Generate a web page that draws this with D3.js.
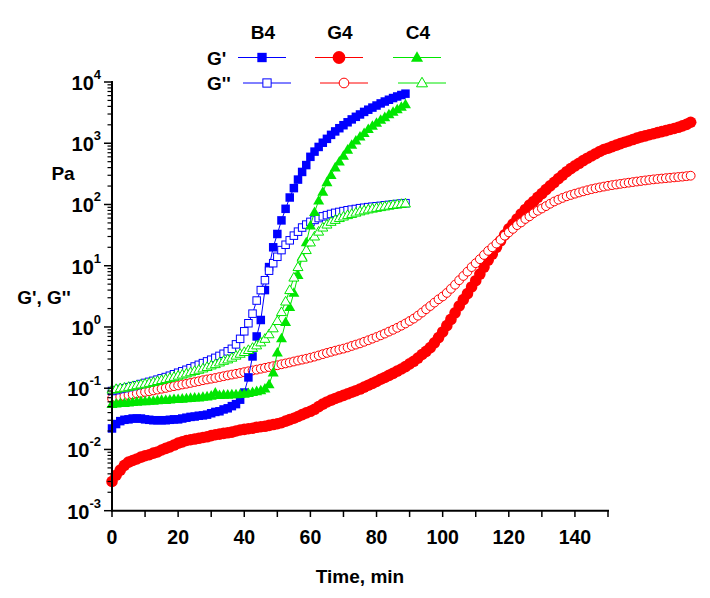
<!DOCTYPE html>
<html><head><meta charset="utf-8">
<script src="https://cdn.jsdelivr.net/npm/d3@7"></script>
<style>body{margin:0;background:#fff}svg{display:block}text{font-family:"Liberation Sans",Arial,sans-serif;font-weight:bold;fill:#000}</style>
</head><body><svg id="c" width="710" height="598"></svg>
<script>
// Sampling times (min)
const timeMin = [0,1.25,2.5,3.75,5,6.25,7.5,8.75,10,11.25,12.5,13.75,15,16.25,17.5,18.75,20,21.25,22.5,23.75,25,26.25,27.5,28.75,30,31.25,32.5,33.75,35,36.25,37.5,38.75,40,41.25,42.5,43.75,45,46.25,47.5,48.75,50,51.25,52.5,53.75,55,56.25,57.5,58.75,60,61.25,62.5,63.75,65,66.25,67.5,68.75,70,71.25,72.5,73.75,75,76.25,77.5,78.75,80,81.25,82.5,83.75,85,86.25,87.5,88.75,90,91.25,92.5,93.75,95,96.25,97.5,98.75,100,101.25,102.5,103.75,105,106.25,107.5,108.75,110,111.25,112.5,113.75,115,116.25,117.5,118.75,120,121.25,122.5,123.75,125,126.25,127.5,128.75,130,131.25,132.5,133.75,135,136.25,137.5,138.75,140,141.25,142.5,143.75,145,146.25,147.5,148.75,150,151.25,152.5,153.75,155,156.25,157.5,158.75,160,161.25,162.5,163.75,165,166.25,167.5,168.75,170,171.25,172.5,173.75,175];

// B4 (0 - 88.75 min), Pa
const B4_Gp = [0.022,0.026,0.029,0.0305, 0.031,0.032,0.032,0.032, 0.031,0.0305,0.030,0.030, 0.030,0.030,0.0305,0.031, 0.031,0.032,0.033,0.034, 0.0345,0.0355,0.036,0.037, 0.039,0.041,0.042,0.045, 0.047,0.051,0.055,0.065, 0.085,0.15,0.33,0.7, 1.3,4.0,9.5,20, 33,55,85,130, 185,255,340,440, 600,730,870,1020, 1180,1370,1560,1760, 1970,2200,2450,2700, 2950,3250,3530,3820, 4130,4470,4800,5130, 5470,5800,6130,6450];
const B4_Gpp = [0.090,0.093,0.097,0.100, 0.104,0.108,0.112,0.117, 0.122,0.127,0.132,0.138, 0.145,0.152,0.160,0.169, 0.179,0.189,0.200,0.212, 0.226,0.241,0.257,0.274, 0.292,0.313,0.337,0.365, 0.40,0.44,0.52,0.64, 0.85,1.15,1.65,2.7, 4.0,5.8,8.3,11, 14,18,22,26, 31,36,42,47, 52,56,60,64, 67,70,73,75.5, 78,80.5,82.5,84.5, 87,88.5,90.5,92, 93.5,95,97,98.5, 100,102,103.5,105];

// C4 (0 - 88.75 min), Pa
const C4_Gp = [0.055,0.056,0.057,0.057, 0.058,0.059,0.060,0.061, 0.061,0.062,0.062,0.063, 0.064,0.064,0.065,0.066, 0.066,0.067,0.068,0.069, 0.070,0.070,0.072,0.073, 0.075,0.084,0.077,0.078, 0.078,0.079,0.079,0.080, 0.081,0.083,0.086,0.089, 0.092,0.098,0.115,0.18, 0.38,0.65,1.2,2.1, 3.6,7.0,14,24, 45,75,115,160, 230,300,400,500, 620,780,940,1100, 1280,1460,1700,1920, 2150,2400,2650,2950, 3250,3550,3900,4300];
const C4_Gpp = [0.095,0.097,0.100,0.102, 0.105,0.108,0.112,0.115, 0.118,0.122,0.126,0.131, 0.136,0.141,0.147,0.153, 0.160,0.167,0.174,0.182, 0.191,0.200,0.210,0.222, 0.235,0.247,0.263,0.28, 0.295,0.315,0.34,0.365, 0.39,0.42,0.455,0.50, 0.56,0.64,0.76,0.95, 1.25,1.75,2.6,4.0, 6.4,9.5,13.5,18, 24,30,36,42, 47,52,56,60, 63.5,67,70,73.5, 77,80,83,85.5, 88,90.5,93,95.5, 98,100,102,104];

// G4 (0 - 175 min), Pa
const G4_Gp = [0.0030,0.0038,0.0046,0.0055, 0.0062,0.0066,0.0070,0.0075, 0.0079,0.0082,0.0087,0.0091, 0.0098,0.0104,0.0110,0.0118, 0.0127,0.0133,0.0140,0.0144, 0.0148,0.0152,0.0157,0.0161, 0.0168,0.0174,0.0178,0.0183, 0.0187,0.0192,0.0200,0.0208, 0.0213,0.0218,0.0222,0.0230, 0.0235,0.0239,0.0247,0.0255, 0.0263,0.0273,0.0290,0.0307, 0.0323,0.0345,0.0370,0.0395, 0.0420,0.0453,0.0500,0.0550, 0.0597,0.0638,0.0680,0.0722, 0.0763,0.0810,0.0860,0.0910, 0.0970,0.104,0.112,0.120, 0.129,0.140,0.150,0.162, 0.175,0.190,0.206,0.225, 0.250,0.275,0.31,0.355, 0.40,0.46,0.55,0.67, 0.83,1.05,1.33,1.7, 2.2,2.8,3.5,4.5, 5.7,7.3,9.5,12.3, 15.5,20,25.5,32, 40,48,58,70, 83,98,112,131, 151,175,201,230, 265,302,343,385, 427,470,520,570, 620,675,735,790, 830,880,930,985, 1040,1090,1150,1210, 1270,1320,1375,1430, 1490,1550,1610,1680, 1740,1820,1920,2030, 2200];
const G4_Gpp = [0.068,0.070,0.072,0.074, 0.077,0.079,0.082,0.084, 0.087,0.089,0.092,0.095, 0.098,0.101,0.105,0.108, 0.111,0.115,0.118,0.122, 0.126,0.130,0.135,0.139, 0.143,0.147,0.152,0.157, 0.162,0.167,0.172,0.177, 0.183,0.189,0.195,0.201, 0.208,0.215,0.222,0.229, 0.237,0.246,0.254,0.263, 0.273,0.283,0.293,0.303, 0.315,0.328,0.343,0.360, 0.377,0.393,0.41,0.427, 0.443,0.463,0.49,0.515, 0.54,0.573,0.607,0.645, 0.685,0.73,0.78,0.84, 0.90,0.97,1.05,1.14, 1.25,1.37,1.53,1.72, 1.95,2.2,2.5,2.83, 3.15,3.6,4.2,4.9, 5.8,6.8,8.0,9.5, 11,12.8,15,17.5, 20,23,26.5,31, 35,40,46,51, 58,64,72,79, 86,94,103,112, 120,128,136,143, 150,157,164,171, 178,184,190,196, 202,207,212,217, 222,227,232,237, 242,247,252,257, 261,265,269,273, 277,281,285,290, 295];

const xTicks = [0,20,40,60,80,100,120,140];
const yExponents = [-3,-2,-1,0,1,2,3,4];
const samples = ["B4","G4","C4"];

const svg = d3.select("#c");
const x = d3.scaleLinear().domain([0,150]).range([112,608]);
const y = d3.scaleLog().domain([1e-3,1e4]).range([510.7,82]);

const BLUE="#0000ff", RED="#ff0000", GREEN="#00e600";

const series = [
  {vals:G4_Gp, color:RED, shape:"circle", filled:true},
  {vals:G4_Gpp, color:RED, shape:"circle", filled:false},
  {vals:B4_Gp, color:BLUE, shape:"square", filled:true},
  {vals:B4_Gpp, color:BLUE, shape:"square", filled:false},
  {vals:C4_Gp, color:GREEN, shape:"triangle", filled:true},
  {vals:C4_Gpp, color:GREEN, shape:"triangle", filled:false}
];

function drawMarker(g, shape, filled, color, cx, cy, scale){
  scale = scale||1;
  if(shape==="square"){
    const s=(filled?8.5:7.5)*scale;
    g.append("rect").attr("x",cx-s/2).attr("y",cy-s/2).attr("width",s).attr("height",s)
     .attr("fill",filled?color:"#fff").attr("stroke",color).attr("stroke-width",filled?0:1);
  } else if(shape==="circle"){
    const r=(filled?5.8:4.4)*scale;
    g.append("circle").attr("cx",cx).attr("cy",cy).attr("r",r)
     .attr("fill",filled?color:"#fff").attr("stroke",color).attr("stroke-width",filled?0:1);
  } else {
    const w=(filled?11:10)*scale, h=w*0.87;
    g.append("path").attr("d",`M${cx},${cy-h*0.6}L${cx+w/2},${cy+h*0.4}L${cx-w/2},${cy+h*0.4}Z`)
     .attr("fill",filled?color:"#fff").attr("stroke",color).attr("stroke-width",filled?0:1);
  }
}

const line = d3.line().x(d=>x(d[0])).y(d=>y(d[1]));
series.forEach(s=>{
  const pts = s.vals.map((v,i)=>[timeMin[i],v]);
  const g = svg.append("g");
  g.append("path").attr("d",line(pts)).attr("fill","none").attr("stroke",s.color).attr("stroke-width",1);
  pts.forEach(p=>drawMarker(g,s.shape,s.filled,s.color,x(p[0]),y(p[1])));
});

// Axes
const ax = svg.append("g");
ax.append("line").attr("x1",112).attr("x2",112).attr("y1",81).attr("y2",511.7).attr("stroke","#000").attr("stroke-width",2);
ax.append("line").attr("x1",111).attr("x2",609).attr("y1",510.7).attr("y2",510.7).attr("stroke","#000").attr("stroke-width",2);
d3.range(0,151,10).forEach(t=>{
  ax.append("line").attr("x1",x(t)).attr("x2",x(t)).attr("y1",510.7).attr("y2",517).attr("stroke","#000").attr("stroke-width",1.5);
});
xTicks.forEach(t=>{
  ax.append("text").attr("x",x(t)).attr("y",544).attr("text-anchor","middle").attr("font-size",19.5).text(t);
});
yExponents.forEach(e=>{
  const yy=y(Math.pow(10,e));
  ax.append("line").attr("x1",104).attr("x2",112).attr("y1",yy).attr("y2",yy).attr("stroke","#000").attr("stroke-width",1.5);
  if(e<4){
    for(let k=2;k<=9;k++){
      const ym=y(k*Math.pow(10,e));
      ax.append("line").attr("x1",107.5).attr("x2",112).attr("y1",ym).attr("y2",ym).attr("stroke","#000").attr("stroke-width",1.2);
    }
  }
  const t=ax.append("text").attr("x",101).attr("y",yy+8).attr("text-anchor","end").attr("font-size",20);
  t.append("tspan").text("10");
  t.append("tspan").attr("dy",-11).attr("font-size",13).text(e);
});

// Axis titles
svg.append("text").attr("x",360).attr("y",583).attr("text-anchor","middle").attr("font-size",19).text("Time, min");
svg.append("text").attr("x",63).attr("y",180).attr("text-anchor","middle").attr("font-size",19).text("Pa");
svg.append("text").attr("x",44).attr("y",304).attr("text-anchor","middle").attr("font-size",19).text("G', G''");

// Legend
const lg = svg.append("g");
const colX = [262,339,417];
const lgColors = [BLUE,RED,GREEN];
const lgShapes = ["square","circle","triangle"];
samples.forEach((s,i)=>{
  lg.append("text").attr("x",colX[i]+1).attr("y",39).attr("text-anchor","middle").attr("font-size",19).text(s);
});
[["G'",57.5,true,0],["G''",83,false,5]].forEach(([lab,yy,filled,dx])=>{
  lg.append("text").attr("x",207).attr("y",yy+7).attr("font-size",19).text(lab);
  colX.forEach((cx,i)=>{
    const c=cx+dx;
    lg.append("line").attr("x1",c-24).attr("x2",c+24).attr("y1",yy).attr("y2",yy).attr("stroke",lgColors[i]).attr("stroke-width",1);
    drawMarker(lg,lgShapes[i],filled,lgColors[i],c,yy,1.1);
  });
});
</script></body></html>
